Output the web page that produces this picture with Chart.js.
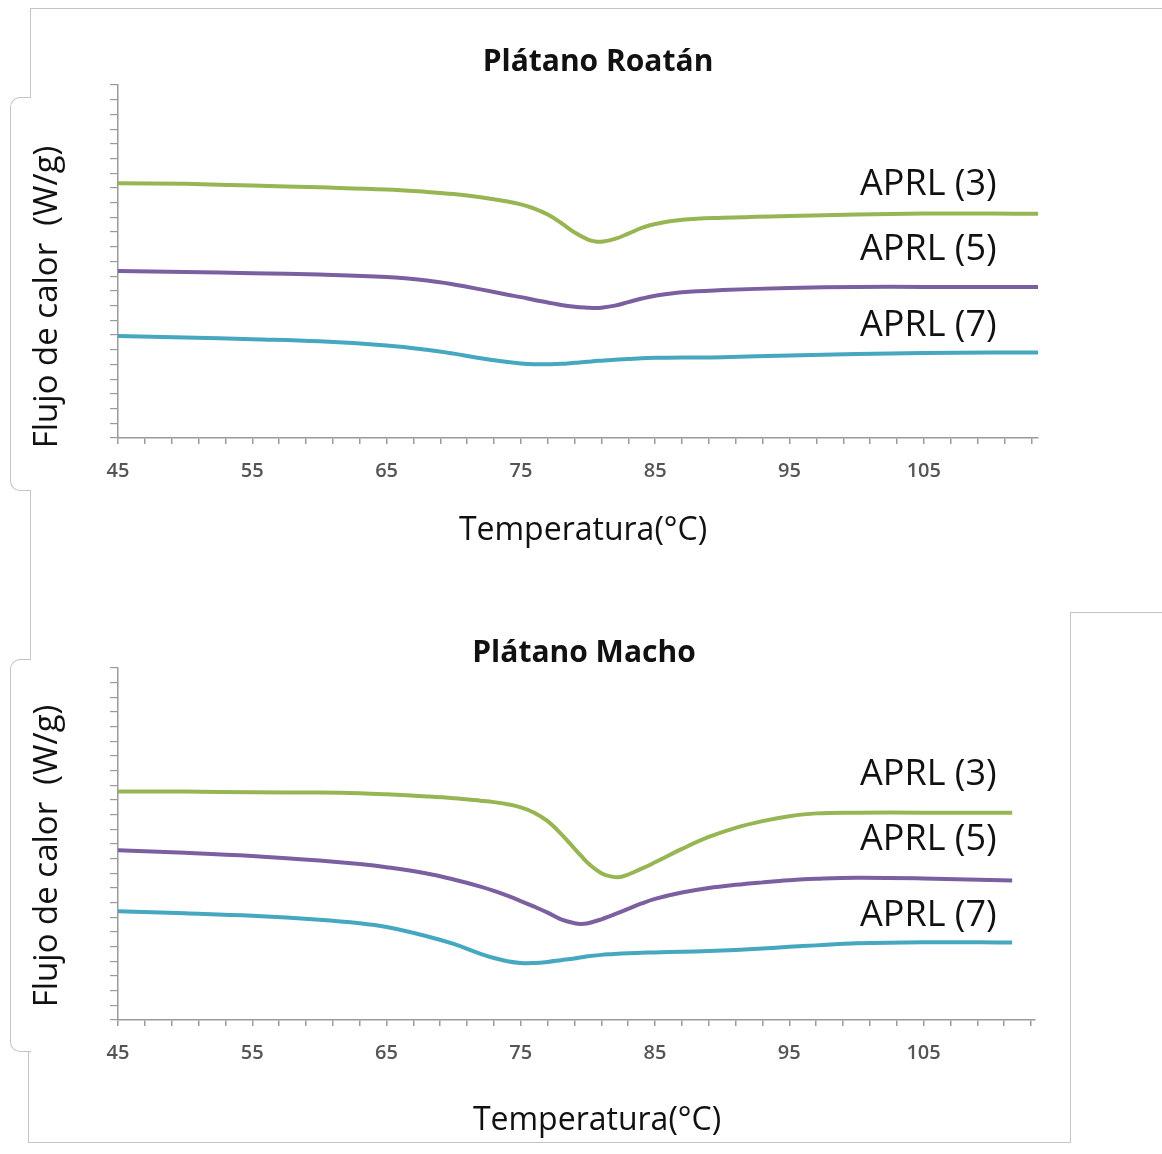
<!DOCTYPE html>
<html>
<head>
<meta charset="utf-8">
<script src="https://cdn.jsdelivr.net/npm/chart.js@4.4.1/dist/chart.umd.min.js"></script>
<style>
  html, body { margin: 0; padding: 0; background: #ffffff; }
  body { width: 1162px; height: 1154px; position: relative; overflow: hidden; }
  .cv { position: absolute; left: 0; }
  .fr { position: absolute; border: 0 solid #c4c4c4; box-sizing: border-box; }
</style>
</head>
<body>
<div class="fr" style="left:30px;top:8px;width:1132px;height:90px;border-top-width:1px;border-left-width:1px;"></div>
<div class="fr" style="left:10px;top:97px;width:21px;height:394px;border-top-width:1px;border-left-width:1px;border-bottom-width:1px;border-radius:10px 0 0 10px;"></div>
<div class="fr" style="left:30px;top:490px;width:10px;height:170px;border-left-width:1px;"></div>
<div class="fr" style="left:10px;top:659px;width:21px;height:393px;border-top-width:1px;border-left-width:1px;border-bottom-width:1px;border-radius:10px 0 0 10px;"></div>
<div class="fr" style="left:28px;top:1051px;width:374px;height:92px;border-left-width:1px;border-bottom-width:1px;"></div>
<div class="fr" style="left:401px;top:1142px;width:670px;height:12px;border-top-width:1px;"></div>
<div class="fr" style="left:1070px;top:612px;width:92px;height:531px;border-top-width:1px;border-left-width:1px;"></div>

<canvas id="c1" class="cv" style="top:0px;"></canvas>
<canvas id="c2" class="cv" style="top:590px;"></canvas>

<script>
// ---------- DATA ----------
// Plátano Roatán
const roatanTemp = [45,50,55,60,65,68,70,72,74,75,76,77,78,79,80,80.5,81,82,83,84,85,87,90,95,100,105,110,113.5];
const roatanAPRL3 = [72.2,72.0,71.5,71.0,70.4,69.7,69.1,68.2,67.0,66.2,65.0,63.3,60.9,58.2,56.2,55.7,55.6,56.4,57.9,59.5,60.6,61.8,62.4,62.9,63.3,63.6,63.6,63.5];
const roatanAPRL5 = [47.3,47.0,46.7,46.3,45.6,44.6,43.5,42.1,40.6,39.9,39.1,38.4,37.7,37.2,36.9,36.8,36.9,37.5,38.5,39.5,40.3,41.3,41.9,42.5,42.8,42.8,42.8,42.8];
const roatanAPRL7 = [28.9,28.5,28.0,27.4,26.2,25.0,23.9,22.6,21.5,21.1,20.9,20.9,21.0,21.3,21.6,21.8,21.9,22.2,22.4,22.6,22.7,22.8,22.9,23.4,23.8,24.1,24.2,24.2];

// Plátano Macho
const machoTemp = [45,50,55,60,63,65,68,70,72,73,74,75,76,77,78,79,79.5,80,81,81.7,82.5,84,85,87,89,91,93,95,97,100,105,111.6];
const machoAPRL3 = [64.9,64.9,64.7,64.6,64.4,64.1,63.5,63.0,62.3,61.9,61.3,60.4,58.9,56.5,52.9,48.7,46.6,44.6,41.7,40.8,40.7,43.0,44.8,48.6,52.0,54.6,56.5,57.9,58.7,58.9,58.9,58.9];
const machoAPRL5 = [48.2,47.5,46.6,45.3,44.3,43.4,41.6,39.9,37.9,36.7,35.3,33.8,32.2,30.5,28.6,27.5,27.3,27.5,28.6,29.6,30.8,33.1,34.4,36.2,37.5,38.4,39.1,39.7,40.1,40.4,40.2,39.6];
const machoAPRL7 = [30.9,30.3,29.6,28.5,27.5,26.4,23.8,21.6,18.8,17.6,16.7,16.2,16.2,16.5,17.0,17.5,17.8,18.1,18.5,18.7,18.9,19.1,19.2,19.4,19.6,19.9,20.3,20.8,21.2,21.8,22.1,22.0];

const seriesNames = ['APRL (3)', 'APRL (5)', 'APRL (7)'];
const seriesColors = ['#97b553', '#7b5fa0', '#45a7c0'];
const chartTitles = ['Plátano Roatán', 'Plátano Macho'];
const xTitle = 'Temperatura(°C)';
const yTitle = 'Flujo de calor  (W/g)';
const xLabelValues = [45, 55, 65, 75, 85, 95, 105];
const xMinorStep = 2;
const yMinorCount = 24;

// ---------- HELPERS ----------
const FONT = "'Open Sans', 'Liberation Sans', sans-serif";

function pts(xs, ys) { return xs.map((x, i) => ({ x: x, y: ys[i] })); }

function makeTextPlugin(items) {
  return {
    id: 'figText',
    afterDraw(chart) {
      const ctx = chart.ctx;
      items.forEach(it => {
        ctx.save();
        ctx.font = it.font;
        ctx.fillStyle = it.color || '#111111';
        ctx.textAlign = it.align || 'center';
        ctx.textBaseline = 'middle';
        ctx.translate(it.x, it.y);
        if (it.rotate) ctx.rotate(it.rotate);
        ctx.fillText(it.text, 0, 0);
        ctx.restore();
      });
    }
  };
}

function makeChart(id, w, h, temps, s3, s5, s7, xMax, area, texts) {
  const cv = document.getElementById(id);
  cv.width = w; cv.height = h;
  cv.style.width = w + 'px'; cv.style.height = h + 'px';
  const xTicks = [];
  for (let v = 45; v <= xMax + 1e-9; v += xMinorStep) xTicks.push(v);
  const yTicks = [];
  for (let i = 0; i <= yMinorCount; i++) yTicks.push(100 * i / yMinorCount);
  const xAxisH = 70;
  const datasets = [s3, s5, s7].map((s, i) => ({
    label: seriesNames[i],
    data: pts(temps, s),
    borderColor: seriesColors[i],
    borderWidth: 4,
    pointRadius: 0,
    fill: false,
    tension: 0.4
  }));
  return new Chart(cv, {
    type: 'line',
    data: { datasets: datasets },
    plugins: [makeTextPlugin(texts)],
    options: {
      responsive: false,
      animation: false,
      devicePixelRatio: 1,
      layout: { padding: { left: 0, right: w - area.right, top: area.top, bottom: h - area.bottom - xAxisH } },
      plugins: { legend: { display: false }, tooltip: { enabled: false }, title: { display: false } },
      scales: {
        x: {
          type: 'linear', min: 45, max: xMax,
          afterBuildTicks: s => { s.ticks = xTicks.map(v => ({ value: v })); },
          afterFit: s => { s.height = xAxisH; },
          ticks: {
            autoSkip: false, maxRotation: 0, padding: 15,
            callback: v => (xLabelValues.includes(Math.round(v * 100) / 100) ? String(v) : ''),
            font: { family: FONT, size: 20, weight: '600' }, color: '#555555'
          },
          grid: { drawOnChartArea: false, drawTicks: true, tickLength: 6, color: '#9a9a9a', lineWidth: 1.5 },
          border: { color: '#9a9a9a', width: 1.5 }
        },
        y: {
          type: 'linear', min: 0, max: 100,
          afterBuildTicks: s => { s.ticks = yTicks.map(v => ({ value: v })); },
          afterFit: s => { s.width = area.left; },
          ticks: { display: true, autoSkip: false, callback: () => '' },
          grid: { drawOnChartArea: false, drawTicks: true, tickLength: 8, color: '#9a9a9a', lineWidth: 1.2 },
          border: { color: '#9a9a9a', width: 1.5 }
        }
      }
    }
  });
}

function textsFor(title, tc, xt, yt, labelX, labelYs) {
  const arr = [
    { text: title, x: tc[0], y: tc[1], font: "bold 30px " + FONT },
    { text: xTitle, x: xt[0], y: xt[1], font: "32px " + FONT },
    { text: yTitle, x: yt[0], y: yt[1], font: "33px " + FONT, rotate: -Math.PI / 2 }
  ];
  seriesNames.forEach((n, i) => arr.push({ text: n, x: labelX, y: labelYs[i], font: "36px " + FONT, align: 'left' }));
  return arr;
}

// Top chart (canvas at page y=0)
makeChart('c1', 1162, 580, roatanTemp, roatanAPRL3, roatanAPRL5, roatanAPRL7, 113.5,
  { left: 118, right: 1038, top: 85, bottom: 438 },
  textsFor(chartTitles[0], [598, 62], [583, 531], [48, 297], 860, [185, 250, 326]));

// Bottom chart (canvas at page y=590)
makeChart('c2', 1162, 560, machoTemp, machoAPRL3, machoAPRL5, machoAPRL7, 113.3,
  { left: 118, right: 1035, top: 78, bottom: 430 },
  textsFor(chartTitles[1], [584, 63], [597, 531], [48, 266], 860, [185, 250, 326]));
</script>
</body>
</html>
